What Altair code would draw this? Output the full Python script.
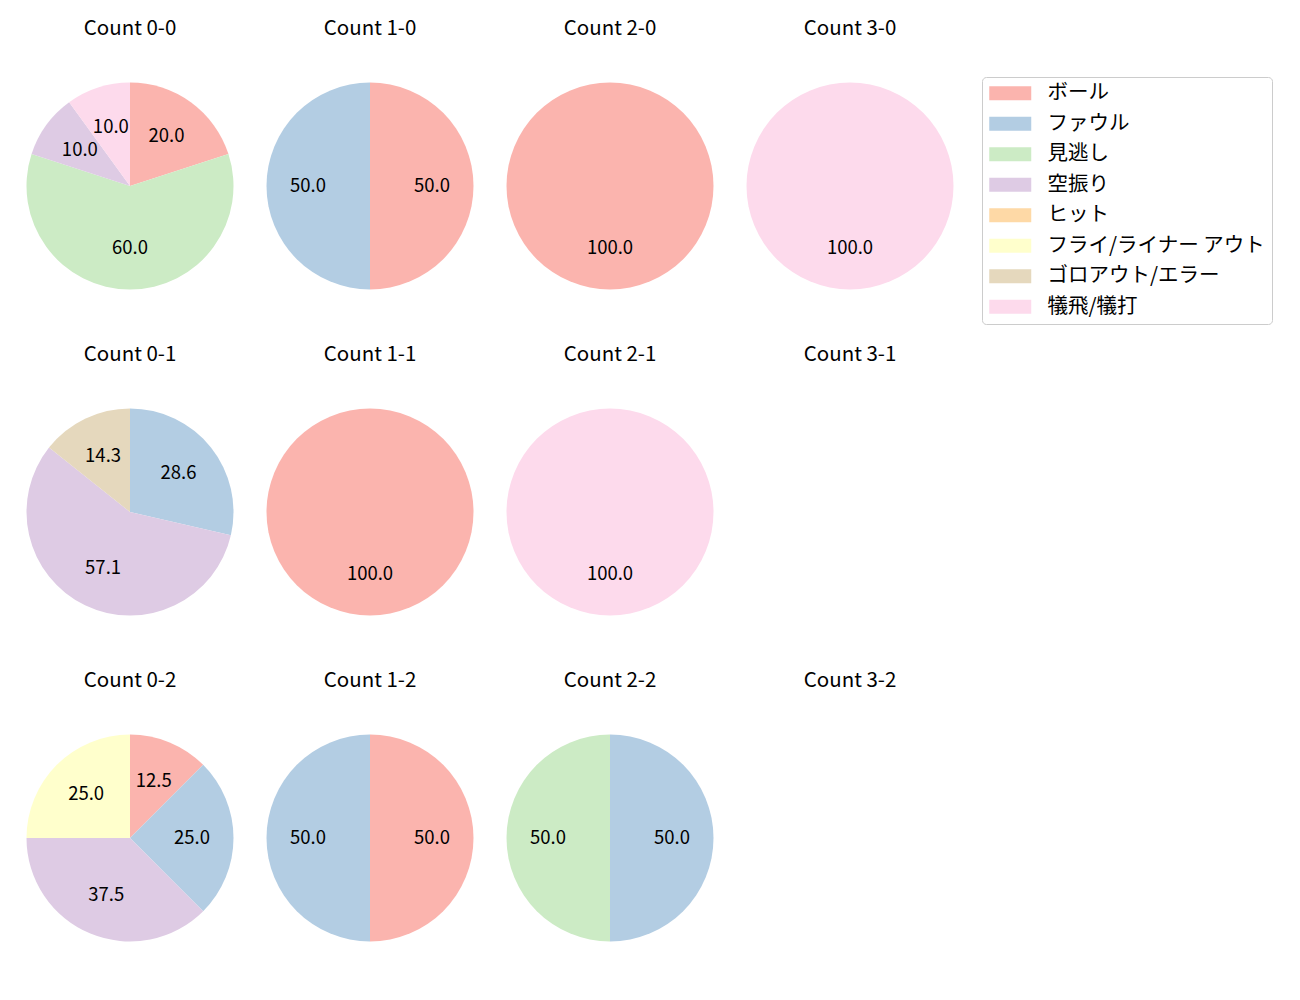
import altair as alt
import pandas as pd

FONT = "Noto Sans CJK JP"

categories = ["ボール", "ファウル", "見逃し", "空振り", "ヒット",
              "フライ/ライナー アウト", "ゴロアウト/エラー", "犠飛/犠打"]
colors = ["#fbb4ae", "#b3cde3", "#ccebc5", "#decbe4", "#fed9a6",
          "#ffffcc", "#e5d8bd", "#fddaec"]

# percentages per category (same order as categories), per count
v_0_0 = [20.0, 0, 60.0, 10.0, 0, 0, 0, 10.0]
v_1_0 = [50.0, 50.0, 0, 0, 0, 0, 0, 0]
v_2_0 = [100.0, 0, 0, 0, 0, 0, 0, 0]
v_3_0 = [0, 0, 0, 0, 0, 0, 0, 100.0]
v_0_1 = [0, 28.6, 0, 57.1, 0, 0, 14.3, 0]
v_1_1 = [100.0, 0, 0, 0, 0, 0, 0, 0]
v_2_1 = [0, 0, 0, 0, 0, 0, 0, 100.0]
v_3_1 = [0, 0, 0, 0, 0, 0, 0, 0]
v_0_2 = [12.5, 25.0, 0, 37.5, 0, 25.0, 0, 0]
v_1_2 = [50.0, 50.0, 0, 0, 0, 0, 0, 0]
v_2_2 = [0, 50.0, 50.0, 0, 0, 0, 0, 0]
v_3_2 = [0, 0, 0, 0, 0, 0, 0, 0]

grid = [
    [("0-0", v_0_0), ("1-0", v_1_0), ("2-0", v_2_0), ("3-0", v_3_0)],
    [("0-1", v_0_1), ("1-1", v_1_1), ("2-1", v_2_1), ("3-1", v_3_1)],
    [("0-2", v_0_2), ("1-2", v_1_2), ("2-2", v_2_2), ("3-2", v_3_2)],
]

W, H = 239.5, 326
CX, CY = 122, 178
R = 103.5
FS = 18.5
TFS = 20.5
LFS = 20.5

color_scale = alt.Scale(domain=categories, range=colors)
legend = alt.Legend(
    title=None, orient="none", legendX=974, legendY=69, direction="vertical",
    symbolType="M-1.286,-1L4.714,-1L4.714,1L-1.286,1Z", symbolSize=196,
    symbolStrokeWidth=0, symbolOpacity=1,
    labelFont=FONT, labelFontSize=LFS, labelColor="black", labelLimit=400,
    labelOffset=39, padding=6, rowPadding=9.5,
    strokeColor="#cccccc", cornerRadius=4, fillColor="white",
)


def panel(name, vals):
    title = alt.Chart(pd.DataFrame({"t": [f"Count {name}"]})).mark_text(
        font=FONT, fontSize=TFS, baseline="middle", color="black"
    ).encode(x=alt.value(CX), y=alt.value(21), text="t:N")
    rows = [dict(cat=c, idx=i, value=v, label=f"{v:.1f}")
            for i, (c, v) in enumerate(zip(categories, vals)) if v > 0]
    if not rows:
        return title.properties(width=W, height=H)
    base = alt.Chart(pd.DataFrame(rows)).encode(
        theta=alt.Theta("value:Q", stack=True),
        order=alt.Order("idx:Q", sort="ascending"),
    )
    arcs = base.mark_arc(radius=R).encode(
        color=alt.Color("cat:N", scale=color_scale, legend=legend),
        x=alt.value(CX), y=alt.value(CY),
    )
    labels = base.mark_text(radius=62, font=FONT, fontSize=FS, color="black",
                            baseline="middle").encode(
        text="label:N", x=alt.value(CX), y=alt.value(CY),
    )
    return alt.layer(arcs, labels, title).properties(width=W, height=H)


rows_charts = [alt.hconcat(*[panel(n, v) for n, v in r], spacing=0) for r in grid]
chart = alt.vconcat(*rows_charts, spacing=0).properties(
    padding=0, background="white"
).configure_view(stroke=None).configure_concat(spacing=0)

chart.save("out.html", embed_options={"renderer": "svg", "actions": False})
